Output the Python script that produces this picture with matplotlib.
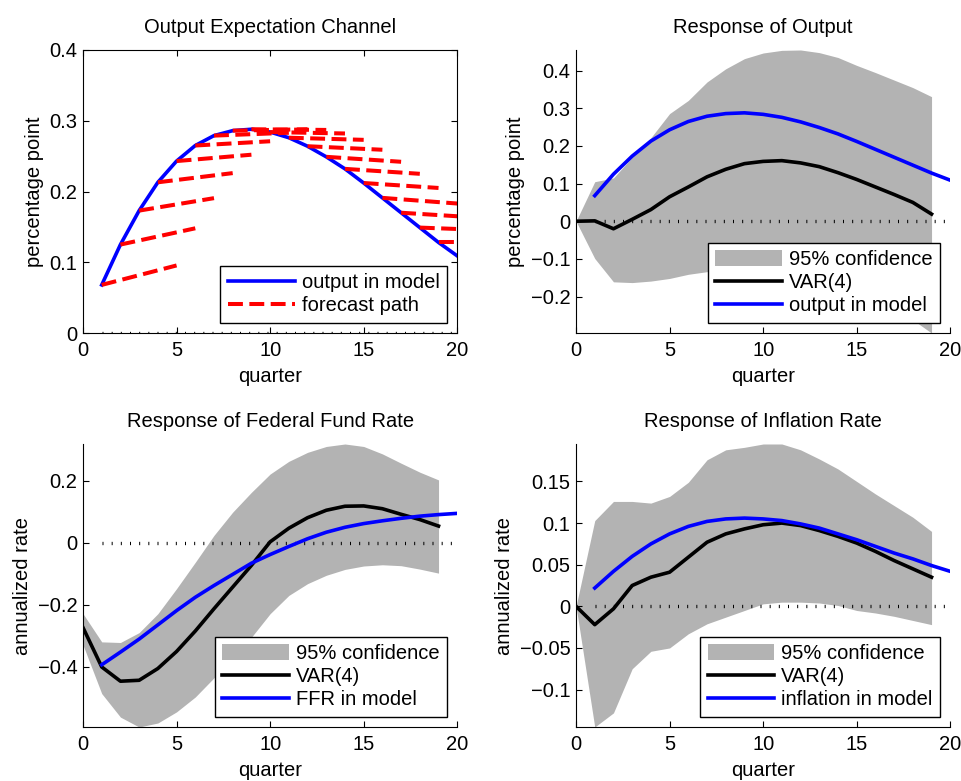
import numpy as np
import matplotlib
matplotlib.use('Agg')
import matplotlib.pyplot as plt

plt.rcParams['font.family'] = ['Liberation Sans', 'DejaVu Sans']
plt.rcParams['font.size'] = 14.5
plt.rcParams['axes.linewidth'] = 0.8

# horizons
q_var = np.arange(0, 20)      # VAR responses, quarters 0..19
q_mod = np.arange(1, 21)      # model responses, quarters 1..20

# output in model (also used in panel 2)
output_model = [0.068, 0.125, 0.173, 0.213, 0.243, 0.265, 0.279, 0.286, 0.288, 0.284,
                0.276, 0.264, 0.249, 0.232, 0.212, 0.191, 0.170, 0.149, 0.128, 0.109]
# forecast paths: start at quarter t on the model path, end 4 quarters later
fc_start = np.arange(1, 20)
fc_end_q = [5, 6, 7, 8, 9, 10, 11, 12, 13, 14, 15, 16, 17, 18, 19, 20, 20, 20, 20]
fc_end_val = [0.0955, 0.148, 0.1906, 0.226, 0.252, 0.271, 0.283, 0.288, 0.287, 0.282,
              0.273, 0.259, 0.242, 0.225, 0.205, 0.183, 0.165, 0.147, 0.128]

# response of output
var_out = [0, 0.001, -0.020, 0.005, 0.031, 0.065, 0.091, 0.118, 0.138, 0.153,
           0.159, 0.161, 0.155, 0.145, 0.129, 0.111, 0.091, 0.071, 0.050, 0.019]
out_hi = [0, 0.105, 0.115, 0.170, 0.222, 0.286, 0.321, 0.370, 0.405, 0.432,
          0.447, 0.454, 0.455, 0.448, 0.435, 0.414, 0.395, 0.375, 0.355, 0.331]
out_lo = [0, -0.099, -0.161, -0.163, -0.159, -0.152, -0.141, -0.134, -0.129, -0.126,
          -0.129, -0.132, -0.145, -0.158, -0.177, -0.193, -0.213, -0.235, -0.262, -0.297]

# response of federal fund rate
var_ffr = [-0.274, -0.401, -0.447, -0.444, -0.406, -0.351, -0.285, -0.213, -0.143, -0.073,
           0.003, 0.047, 0.081, 0.105, 0.118, 0.119, 0.110, 0.092, 0.075, 0.054]
ffr_model = [-0.394, -0.353, -0.311, -0.265, -0.219, -0.176, -0.138, -0.102, -0.066, -0.038,
             -0.012, 0.013, 0.034, 0.050, 0.062, 0.071, 0.079, 0.086, 0.091, 0.095]
ffr_hi = [-0.229, -0.320, -0.322, -0.290, -0.229, -0.148, -0.063, 0.024, 0.099, 0.163,
          0.222, 0.263, 0.292, 0.311, 0.319, 0.311, 0.287, 0.257, 0.228, 0.203]
ffr_lo = [-0.330, -0.487, -0.563, -0.595, -0.582, -0.546, -0.498, -0.436, -0.369, -0.305,
          -0.229, -0.170, -0.132, -0.105, -0.086, -0.075, -0.071, -0.074, -0.085, -0.098]

# response of inflation rate
var_inf = [0, -0.022, -0.003, 0.025, 0.035, 0.041, 0.059, 0.077, 0.087, 0.093,
           0.098, 0.100, 0.097, 0.091, 0.084, 0.076, 0.066, 0.055, 0.045, 0.035]
inf_model = [0.022, 0.042, 0.060, 0.075, 0.087, 0.096, 0.102, 0.105, 0.106, 0.105,
             0.103, 0.099, 0.094, 0.087, 0.080, 0.072, 0.064, 0.057, 0.049, 0.042]
inf_hi = [0, 0.103, 0.126, 0.126, 0.124, 0.132, 0.149, 0.176, 0.188, 0.191,
          0.195, 0.195, 0.188, 0.177, 0.165, 0.150, 0.135, 0.121, 0.107, 0.090]
inf_lo = [0, -0.145, -0.128, -0.075, -0.054, -0.050, -0.033, -0.021, -0.013, -0.005,
          0.003, 0.005, 0.005, 0.004, 0.001, -0.005, -0.008, -0.012, -0.017, -0.022]

xticks = [0, 5, 10, 15, 20]
yt1 = [0, 0.1, 0.2, 0.3, 0.4]
yl1 = ['0', '0.1', '0.2', '0.3', '0.4']
yt2 = [-0.2, -0.1, 0, 0.1, 0.2, 0.3, 0.4]
yl2 = ['\u22120.2', '\u22120.1', '0', '0.1', '0.2', '0.3', '0.4']
yt3 = [-0.4, -0.2, 0, 0.2]
yl3 = ['\u22120.4', '\u22120.2', '0', '0.2']
yt4 = [-0.1, -0.05, 0, 0.05, 0.1, 0.15]
yl4 = ['\u22120.1', '\u22120.05', '0', '0.05', '0.1', '0.15']

BLUE = '#0000ff'
RED = '#ff0000'
GRAY = '#b3b3b3'
LW = 2.6
ZERO_STYLE = dict(color='black', lw=2.4, linestyle=(0, (0.3, 2.45)))

fig = plt.figure(figsize=(9.62, 7.81), dpi=100)
W, H = 0.389, 0.3624
ax1 = fig.add_axes([0.0863, 0.5736, W, H])
ax2 = fig.add_axes([0.5988, 0.5736, W, H])
ax3 = fig.add_axes([0.0863, 0.0691, W, H])
ax4 = fig.add_axes([0.5988, 0.0691, W, H])


def style(ax, title, ylabel, yt, yl, ylim, box):
    ax.set_xlim(0, 20)
    ax.set_ylim(*ylim)
    ax.set_xticks(xticks)
    ax.set_yticks(yt)
    ax.set_yticklabels(yl)
    ax.set_title(title, pad=12, fontsize=14.5)
    ax.set_xlabel('quarter', labelpad=5)
    ax.set_ylabel(ylabel, labelpad=4)
    ax.tick_params(direction='in', length=4, width=0.8, top=box, right=box)
    ax.tick_params(axis='y', pad=4)
    ax.tick_params(axis='x', pad=6)
    if not box:
        ax.spines['top'].set_visible(False)
        ax.spines['right'].set_visible(False)


def add_legend(ax):
    leg = ax.legend(loc='lower right', fancybox=False, framealpha=1, edgecolor='black',
                    handlelength=3.3, handleheight=0.85, handletextpad=0.35,
                    labelspacing=0.2, borderpad=0.38, borderaxespad=0.5, fontsize=14.5)
    leg.get_frame().set_linewidth(1.0)


# panel 1
ax1.plot(q_mod, np.zeros(20), **ZERO_STYLE)
ax1.plot(q_mod, output_model, color=BLUE, lw=LW, label='output in model')
for i, t in enumerate(fc_start):
    ax1.plot([t, fc_end_q[i]], [output_model[t - 1], fc_end_val[i]], '--',
             color=RED, lw=2.9, label='forecast path' if i == 0 else None)
style(ax1, 'Output Expectation Channel', 'percentage point', yt1, yl1, (0, 0.4), True)
add_legend(ax1)

# panel 2
ax2.fill_between(q_var, out_lo, out_hi, color=GRAY, lw=0, label='95% confidence')
ax2.plot(q_mod, np.zeros(20), **ZERO_STYLE)
ax2.plot(q_var, var_out, color='black', lw=LW, label='VAR(4)')
ax2.plot(q_mod, output_model, color=BLUE, lw=LW, label='output in model')
style(ax2, 'Response of Output', 'percentage point', yt2, yl2, (min(out_lo), max(out_hi)), False)
add_legend(ax2)

# panel 3
ax3.fill_between(q_var, ffr_lo, ffr_hi, color=GRAY, lw=0, label='95% confidence')
ax3.plot(q_mod, np.zeros(20), **ZERO_STYLE)
ax3.plot(q_var, var_ffr, color='black', lw=LW, label='VAR(4)')
ax3.plot(q_mod, ffr_model, color=BLUE, lw=LW, label='FFR in model')
style(ax3, 'Response of Federal Fund Rate', 'annualized rate', yt3, yl3, (min(ffr_lo), max(ffr_hi)), False)
add_legend(ax3)

# panel 4
ax4.fill_between(q_var, inf_lo, inf_hi, color=GRAY, lw=0, label='95% confidence')
ax4.plot(q_mod, np.zeros(20), **ZERO_STYLE)
ax4.plot(q_var, var_inf, color='black', lw=LW, label='VAR(4)')
ax4.plot(q_mod, inf_model, color=BLUE, lw=LW, label='inflation in model')
style(ax4, 'Response of Inflation Rate', 'annualized rate', yt4, yl4, (min(inf_lo), max(inf_hi)), False)
add_legend(ax4)

fig.savefig('out.png', dpi=100)
